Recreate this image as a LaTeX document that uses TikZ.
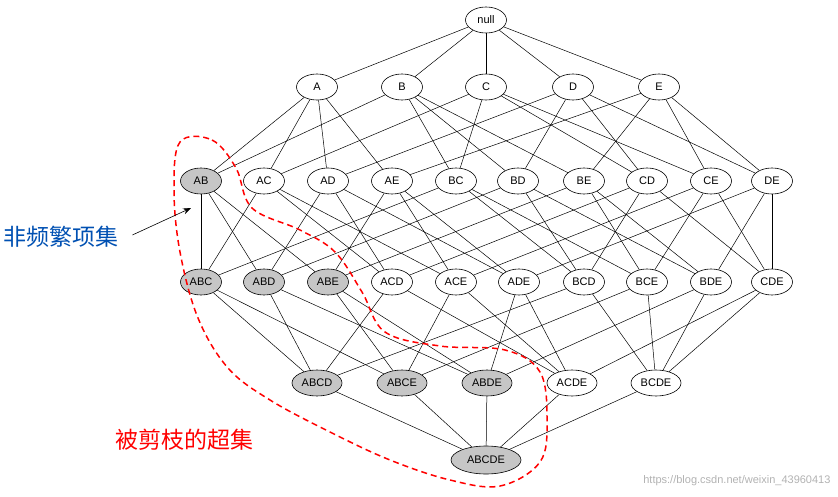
\documentclass[tikz,border=0pt]{standalone}
\usepackage{fontspec}
\setmainfont{Liberation Sans}
\newfontfamily\cjk{Noto Sans CJK SC}
\usetikzlibrary{shapes.geometric,arrows.meta}
\pgfdeclarelayer{bg}
\pgfsetlayers{bg,main}
\begin{document}
\begin{tikzpicture}[x=1pt,y=-1pt,
  it/.style={ellipse,draw,fill=white,line width=0.6pt,minimum width=41pt,minimum height=26pt,inner sep=0pt,font=\fontsize{11}{12}\selectfont},
  gr/.style={fill=gray!45},
  ed/.style={line width=0.5pt}]
\useasboundingbox (0,0) rectangle (838,497);
\node[it] (null) at (486,20) {null};
\foreach \n/\x in {A/317,B/402,C/486,D/573,E/659} \node[it] (\n) at (\x,87) {\n};
\node[it,gr] (AB) at (201,181) {AB};
\foreach \n/\x in {AC/264,AD/328,AE/392,BC/456,BD/518,BE/584,CD/647,CE/711,DE/772} \node[it] (\n) at (\x,181) {\n};
\foreach \n/\x in {ABC/201,ABD/264,ABE/328} \node[it,gr] (\n) at (\x,282) {\n};
\foreach \n/\x in {ACD/392,ACE/456,ADE/519,BCD/584,BCE/647,BDE/711,CDE/772} \node[it] (\n) at (\x,282) {\n};
\foreach \n/\x in {ABCD/317,ABCE/402,ABDE/487} \node[it,gr,minimum width=50pt] (\n) at (\x,383) {\n};
\foreach \n/\x in {ACDE/572,BCDE/656} \node[it,minimum width=50pt] (\n) at (\x,383) {\n};
\node[it,minimum width=70pt,minimum height=28pt,gr] (ABCDE) at (486,460) {ABCDE};
\begin{pgfonlayer}{bg}
\foreach \a in {A,B,C,D,E} \draw[ed] (null) -- (\a);
\foreach \p/\a/\b in {AB/A/B,AC/A/C,AD/A/D,AE/A/E,BC/B/C,BD/B/D,BE/B/E,CD/C/D,CE/C/E,DE/D/E} {\draw[ed] (\a) -- (\p); \draw[ed] (\b) -- (\p);}
\foreach \t/\a/\b/\c in {ABC/AB/AC/BC,ABD/AB/AD/BD,ABE/AB/AE/BE,ACD/AC/AD/CD,ACE/AC/AE/CE,ADE/AD/AE/DE,BCD/BC/BD/CD,BCE/BC/BE/CE,BDE/BD/BE/DE,CDE/CD/CE/DE} {\draw[ed] (\a) -- (\t); \draw[ed] (\b) -- (\t); \draw[ed] (\c) -- (\t);}
\foreach \q/\a/\b/\c/\d in {ABCD/ABC/ABD/ACD/BCD,ABCE/ABC/ABE/ACE/BCE,ABDE/ABD/ABE/ADE/BDE,ACDE/ACD/ACE/ADE/CDE,BCDE/BCD/BCE/BDE/CDE} {\draw[ed] (\a) -- (\q); \draw[ed] (\b) -- (\q); \draw[ed] (\c) -- (\q); \draw[ed] (\d) -- (\q);}
\foreach \q in {ABCD,ABCE,ABDE,ACDE,BCDE} \draw[ed] (\q) -- (ABCDE);
\end{pgfonlayer}
\draw[red,dash pattern=on 6pt off 4pt,line width=1.5pt] plot[smooth cycle,tension=0.6] coordinates {(180,142) (212,140) (236,168) (252,208) (300,230) (335,252) (362,292) (385,332) (440,346) (505,350) (540,372) (547,420) (540,462) (500,486) (450,480) (390,460) (330,432) (270,400) (228,368) (198,318) (180,252) (174,190)};
\node[font=\cjk\fontsize{23}{25}\selectfont,text=blue!55!cyan!70!black,anchor=west,inner sep=0pt] (t1) at (3,237) {非频繁项集};
\coordinate (ar) at (191,208);
\draw[-{Stealth[length=8pt]},line width=0.6pt] (t1.east) ++(14,-2) -- (ar);
\node[font=\cjk\fontsize{23}{25}\selectfont,text=red,anchor=west,inner sep=0pt] (t2) at (115,440) {被剪枝的超集};
\node[font=\fontsize{11}{12}\selectfont,text=gray!60,anchor=east] (wm) at (834,481) {https://blog.csdn.net/weixin\_43960413};
\end{tikzpicture}
\end{document}
